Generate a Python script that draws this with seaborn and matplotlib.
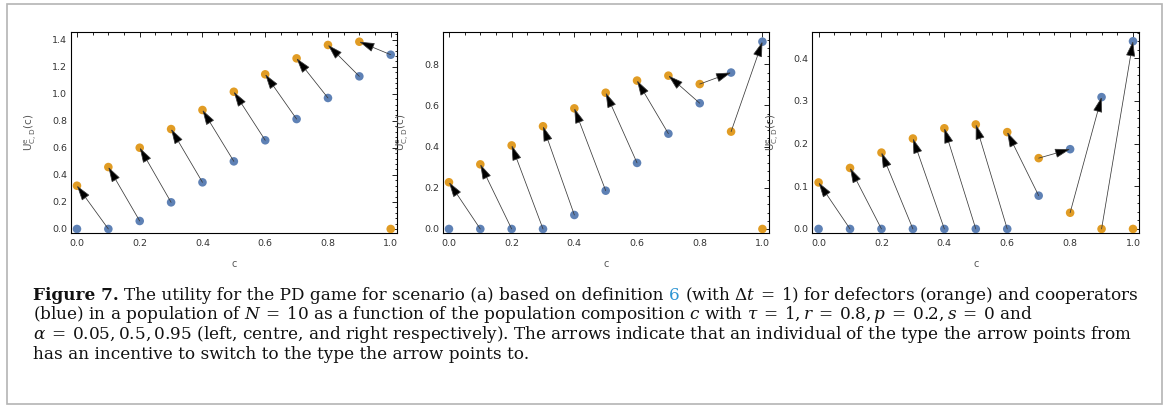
import numpy as np
import pandas as pd
import matplotlib
matplotlib.use("Agg")
import matplotlib.pyplot as plt
import seaborn as sns
from matplotlib.patches import FancyArrowPatch, Rectangle
from matplotlib.ticker import MultipleLocator

# ---------------- data ----------------
c_values = [0.0, 0.1, 0.2, 0.3, 0.4, 0.5, 0.6, 0.7, 0.8, 0.9, 1.0]

defectors_left = [0.320, 0.458, 0.601, 0.739, 0.880, 1.015, 1.144, 1.262, 1.361, 1.385, 0.0]
cooperators_left = [0.0, 0.0, 0.059, 0.197, 0.345, 0.500, 0.656, 0.813, 0.969, 1.129, 1.289]

defectors_centre = [0.227, 0.314, 0.406, 0.499, 0.586, 0.662, 0.721, 0.745, 0.704, 0.473, 0.0]
cooperators_centre = [0.0, 0.0, 0.0, 0.0, 0.068, 0.186, 0.321, 0.463, 0.611, 0.760, 0.910]

defectors_right = [0.109, 0.143, 0.179, 0.212, 0.236, 0.245, 0.227, 0.166, 0.038, 0.0, 0.0]
cooperators_right = [0.0, 0.0, 0.0, 0.0, 0.0, 0.0, 0.0, 0.078, 0.187, 0.309, 0.440]

panels = [
    (defectors_left, cooperators_left),
    (defectors_centre, cooperators_centre),
    (defectors_right, cooperators_right),
]

x_ticks = [0.0, 0.2, 0.4, 0.6, 0.8, 1.0]
y_limits = [(-0.032, 1.457), (-0.021, 0.957), (-0.0102, 0.4617)]
y_major = [0.2, 0.2, 0.1]
y_minor = [0.04, 0.04, 0.02]

ORANGE = "#E19C24"
BLUE = "#5E81B5"

# ---------------- figure ----------------
sns.set_style("white")
plt.rcParams["font.family"] = ["DejaVu Sans"]
plt.rcParams["mathtext.fontset"] = "dejavuserif"

W, H = 1167, 405
fig = plt.figure(figsize=(W / 100, H / 100), dpi=100)

axes_px = [(70.7, 397.0), (442.7, 768.7), (812.3, 1139.3)]
top_px, bot_px = 32.0, 233.3

for k, ((dvals, cvals), (lx, rx)) in enumerate(zip(panels, axes_px)):
    ax = fig.add_axes([lx / W, 1 - bot_px / H, (rx - lx) / W, (bot_px - top_px) / H])
    df = pd.DataFrame({
        "c": c_values * 2,
        "U": list(dvals) + list(cvals),
        "type": ["Defector"] * len(c_values) + ["Cooperator"] * len(c_values),
    })
    sns.scatterplot(data=df, x="c", y="U", hue="type",
                    palette={"Defector": ORANGE, "Cooperator": BLUE},
                    s=38, linewidth=0, ax=ax, legend=False, zorder=3)

    # arrows: a cooperator at c compared with a defector at c - 0.1
    for i in range(1, len(c_values)):
        blue_pt = (c_values[i], cvals[i])
        orange_pt = (c_values[i - 1], dvals[i - 1])
        if cvals[i] < dvals[i - 1]:
            start, end = blue_pt, orange_pt
        else:
            start, end = orange_pt, blue_pt
        arr = FancyArrowPatch(start, end, arrowstyle="-|>,head_length=0.95,head_width=0.29",
                              mutation_scale=10, shrinkA=0, shrinkB=0,
                              facecolor="black", edgecolor="#3a3a3a", lw=0.55, zorder=4)
        ax.add_patch(arr)

    ax.set_xlim(-0.02, 1.02)
    ax.set_ylim(*y_limits[k])
    ax.set_xticks(x_ticks)
    ax.xaxis.set_major_formatter(matplotlib.ticker.FormatStrFormatter("%.1f"))
    ax.yaxis.set_major_formatter(matplotlib.ticker.FormatStrFormatter("%.1f"))
    ax.xaxis.set_minor_locator(MultipleLocator(0.05))
    ax.yaxis.set_major_locator(MultipleLocator(y_major[k]))
    ax.yaxis.set_minor_locator(MultipleLocator(y_minor[k]))
    ax.tick_params(which="both", direction="in", top=True, right=True,
                   width=0.6, color="black", labelsize=6.8, labelcolor="#333333")
    ax.tick_params(which="major", length=3.3, pad=2.5)
    ax.tick_params(which="minor", length=1.8)
    ax.tick_params(axis="x", which="major", pad=4)
    for sp in ax.spines.values():
        sp.set_linewidth(0.8)
        sp.set_color("black")

    ax.set_xlabel("c", fontsize=7, color="#555555")
    ax.xaxis.set_label_coords(0.5, -0.129)
    ax.set_ylabel(r"$\mathregular{U^{e}_{C,D}(c)}$", fontsize=7.5, color="#555555",
                  math_fontfamily="dejavusans")
    ax.yaxis.set_label_coords(-0.097, 0.5)

# ---------------- caption ----------------
SERIF = "DejaVu Serif"
link_blue = "#2E95D3"

caption_lines = [
    [("Figure 7.", {"fontweight": "bold"}, False),
     ("The utility for the PD game for scenario (a) based on definition", {}, True),
     ("6", {"color": link_blue}, True),
     (r"(with $\Delta t\:=\:1$) for defectors (orange) and cooperators", {}, True)],
    [(r"(blue) in a population of $N\:=\:10$ as a function of the population composition $c$ with "
      r"$\tau\:=\:1,r\:=\:0.8,p\:=\:0.2,s\:=\:0$ and", {}, False)],
    [(r"$\alpha\:=\:0.05,0.5,0.95$ (left, centre, and right respectively). The arrows indicate "
      r"that an individual of the type the arrow points from", {}, False)],
    [("has an incentive to switch to the type the arrow points to.", {}, False)],
]
baselines_px = [299.5, 319.3, 339.1, 358.9]
x0_px = 33.0

fig.canvas.draw()
renderer = fig.canvas.get_renderer()


def space_width(fs):
    a = fig.text(0, 0, "a a", fontsize=fs, family=SERIF)
    b = fig.text(0, 0, "aa", fontsize=fs, family=SERIF)
    w = a.get_window_extent(renderer).width - b.get_window_extent(renderer).width
    a.remove()
    b.remove()
    return w


def draw_line(segs, y_px, fs):
    arts = []
    x = x0_px
    sw = space_width(fs)
    for txt, kw, space_before in segs:
        if space_before:
            x += sw
        t = fig.text(x / W, 1 - y_px / H, txt, fontsize=fs, family=SERIF,
                     ha="left", va="baseline", color=kw.get("color", "#111111"),
                     fontweight=kw.get("fontweight", "normal"))
        arts.append(t)
        x = t.get_window_extent(renderer).x1
    return arts, x


# fit caption size to the reference's first-line width, capped to keep the line height
trial_fs = 12.0
arts, xend = draw_line(caption_lines[0], baselines_px[0], trial_fs)
for a in arts:
    a.remove()
fs = min(trial_fs * (1133.0 - x0_px) / (xend - x0_px), 12.4)

for segs, yb in zip(caption_lines, baselines_px):
    draw_line(segs, yb, fs)

# frame around the figure
fig.patches.append(Rectangle((7 / W, 1 - 404 / H), (1162 - 7) / W, (404 - 4) / H,
                             transform=fig.transFigure, fill=False,
                             edgecolor="#b4b4b4", lw=1.2))

fig.savefig("out.png", dpi=100)
